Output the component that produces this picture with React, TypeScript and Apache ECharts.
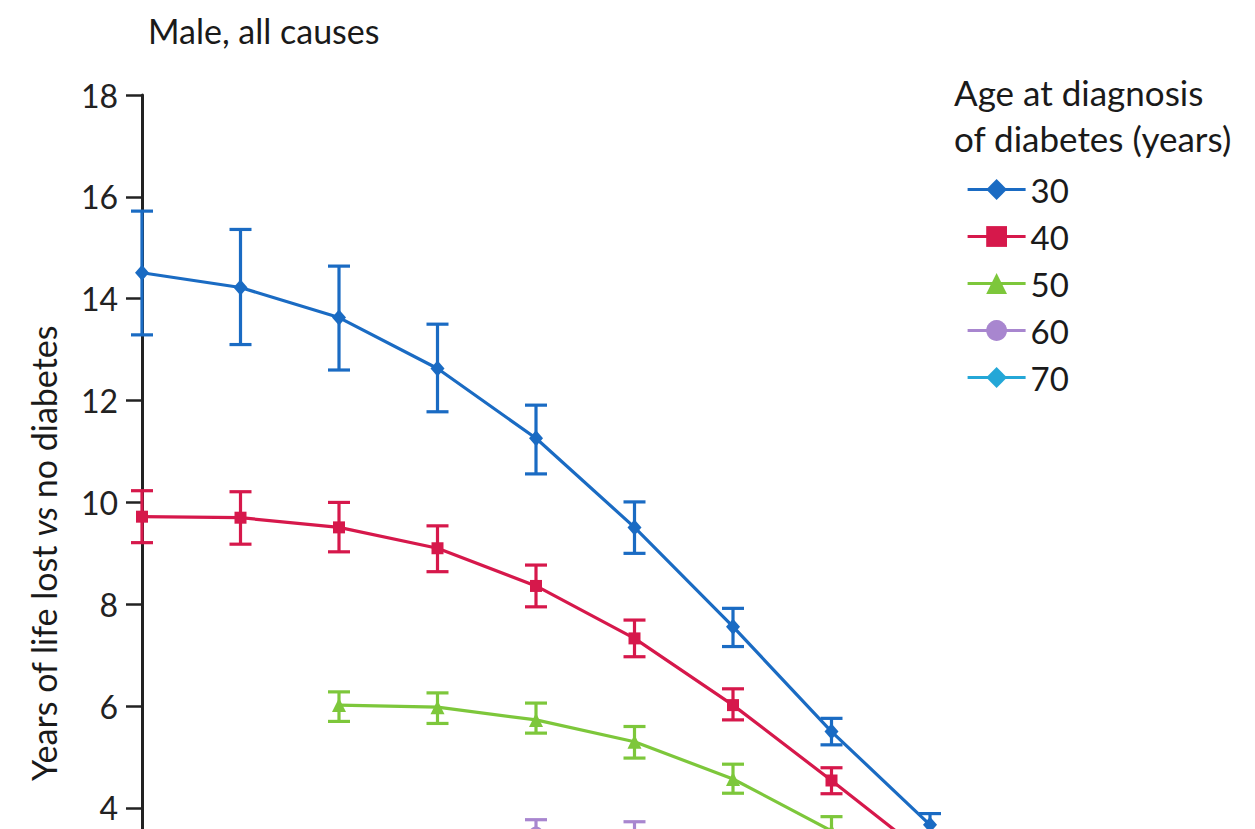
import React, { useEffect, useRef } from "react";
import * as echarts from "echarts";

// Age (years) on the hidden x axis
const ages30 = [40, 45, 50, 55, 60, 65, 70, 75, 80];
const val30 = [14.51, 14.22, 13.63, 12.63, 11.26, 9.51, 7.56, 5.5, 3.67];
const low30 = [13.29, 13.1, 12.6, 11.78, 10.56, 9.0, 7.17, 5.24, 3.45];
const high30 = [15.72, 15.36, 14.64, 13.5, 11.91, 10.01, 7.92, 5.76, 3.89];

const ages40 = [40, 45, 50, 55, 60, 65, 70, 75, 80];
const val40 = [9.72, 9.7, 9.51, 9.1, 8.36, 7.33, 6.02, 4.54, 3.02];
const low40 = [9.21, 9.18, 9.03, 8.64, 7.95, 6.97, 5.73, 4.28, 2.8];
const high40 = [10.23, 10.21, 10.0, 9.54, 8.77, 7.69, 6.34, 4.79, 3.25];

const ages50 = [50, 55, 60, 65, 70, 75];
const val50 = [6.02, 5.98, 5.73, 5.3, 4.57, 3.55];
const low50 = [5.7, 5.66, 5.47, 4.98, 4.29, 3.3];
const high50 = [6.28, 6.26, 6.06, 5.6, 4.86, 3.83];

const ages60 = [60, 65];
const val60 = [3.5, 3.45];
const low60 = [3.25, 3.2];
const high60 = [3.77, 3.73];

const ages70: number[] = [];
const val70: number[] = [];
const low70: number[] = [];
const high70: number[] = [];

const groupNames = ["30", "40", "50", "60", "70"];
const yTicks = [0, 2, 4, 6, 8, 10, 12, 14, 16, 18];
const firstShownTick = 4;

const COLORS = ["#1a6bc3", "#d6184b", "#7dc73b", "#a886cf", "#24a7d7"];
const SYMBOLS = ["diamond", "rect", "triangle", "circle", "diamond"];
const SYMBOL_SIZES: any[] = [[14, 16], 12, 14, 14, [14, 16]];
const FONT = "Lato, 'Open Sans', sans-serif";

export default function App() {
  const ref = useRef<HTMLDivElement>(null);

  useEffect(() => {
    if (!ref.current) return;
    const chart = echarts.init(ref.current, undefined, { renderer: "svg" });

    const groups = [
      { ages: ages30, val: val30, low: low30, high: high30 },
      { ages: ages40, val: val40, low: low40, high: high40 },
      { ages: ages50, val: val50, low: low50, high: high50 },
      { ages: ages60, val: val60, low: low60, high: high60 },
      { ages: ages70, val: val70, low: low70, high: high70 },
    ];

    const errRender = (color: string) => (params: any, api: any) => {
      const x = api.value(0);
      const lo = api.coord([x, api.value(1)]);
      const hi = api.coord([x, api.value(2)]);
      const w = 11;
      const style = { stroke: color, lineWidth: 3.2, fill: null };
      return {
        type: "group",
        children: [
          { type: "line", shape: { x1: hi[0], y1: hi[1], x2: lo[0], y2: lo[1] }, style },
          { type: "line", shape: { x1: hi[0] - w, y1: hi[1], x2: hi[0] + w, y2: hi[1] }, style },
          { type: "line", shape: { x1: lo[0] - w, y1: lo[1], x2: lo[0] + w, y2: lo[1] }, style },
        ],
      };
    };

    const series: any[] = [];
    groups.forEach((g, i) => {
      series.push({
        name: "err" + groupNames[i],
        type: "custom",
        renderItem: errRender(COLORS[i]),
        data: g.ages.map((a, k) => [a, g.low[k], g.high[k]]),
        encode: { x: 0, y: [1, 2] },
        z: 2,
        silent: true,
      });
    });
    groups.forEach((g, i) => {
      series.push({
        name: groupNames[i],
        type: "line",
        data: g.ages.map((a, k) => [a, g.val[k]]),
        symbol: SYMBOLS[i],
        symbolSize: SYMBOL_SIZES[i],
        showSymbol: true,
        color: COLORS[i],
        lineStyle: { width: 3.2, color: COLORS[i] },
        itemStyle: { color: COLORS[i] },
        z: 3,
      });
    });

    chart.setOption({
      animation: false,
      backgroundColor: "#ffffff",
      title: [
        {
          text: "Male, all causes",
          left: 143,
          top: 8,
          textStyle: { fontFamily: FONT, fontSize: 34, fontWeight: "normal", color: "#1a1a1a" },
        },
        {
          text: "Age at diagnosis\nof diabetes (years)",
          left: 949,
          top: 64,
          textStyle: {
            fontFamily: FONT,
            fontSize: 35,
            fontWeight: "normal",
            color: "#1a1a1a",
            lineHeight: 46,
          },
        },
      ],
      legend: {
        data: groupNames,
        orient: "vertical",
        left: 961,
        top: 168,
        itemWidth: 58,
        itemHeight: 26,
        itemGap: 14,
        selectedMode: false,
        lineStyle: { width: 3.2 },
        textStyle: { fontFamily: FONT, fontSize: 33, color: "#1a1a1a", lineHeight: 33 },
      },
      grid: { left: 142, top: 95, width: 788, height: 916.7 },
      xAxis: { type: "value", min: 40, max: 80, show: false },
      yAxis: {
        type: "value",
        min: yTicks[0],
        max: yTicks[yTicks.length - 1],
        interval: 2,
        name: "Years of life lost {i|vs} no diabetes",
        nameLocation: "middle",
        nameRotate: 90,
        nameGap: 82,
        nameTextStyle: {
          fontFamily: FONT,
          fontSize: 34,
          color: "#1a1a1a",
          rich: { i: { fontFamily: FONT, fontSize: 34, fontStyle: "italic", color: "#1a1a1a" } },
        },
        axisLine: { show: true, lineStyle: { color: "#222", width: 3 } },
        axisTick: { show: true, length: 16, lineStyle: { color: "#222", width: 2.5 } },
        axisLabel: {
          fontFamily: FONT,
          fontSize: 32,
          color: "#222",
          margin: 24,
          lineHeight: 28,
          formatter: (v: number) => (v >= firstShownTick ? String(v) : ""),
        },
        splitLine: { show: false },
      },
      series,
    });

    return () => chart.dispose();
  }, []);

  return (
    <div
      style={{
        position: "fixed",
        left: 0,
        top: 0,
        width: 1255,
        height: 829,
        overflow: "hidden",
        background: "#fff",
      }}
    >
      <div ref={ref} style={{ width: 1255, height: 1100 }} />
    </div>
  );
}
